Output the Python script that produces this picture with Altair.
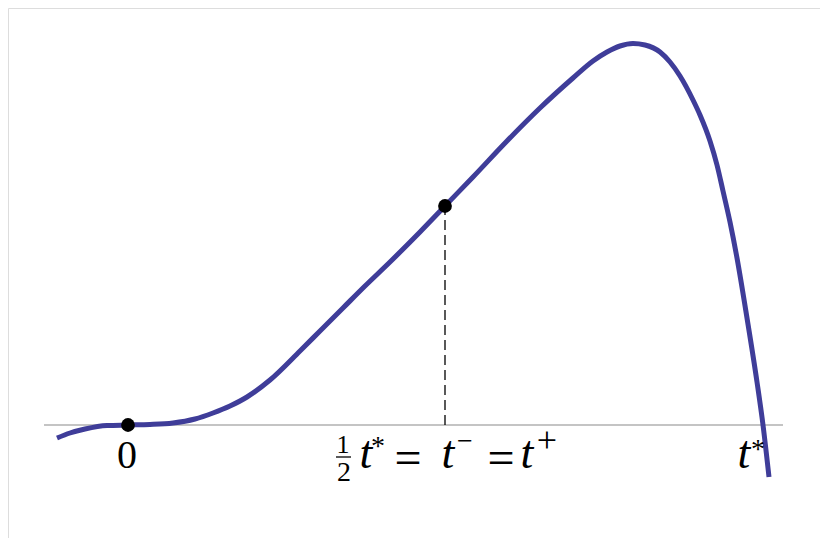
import altair as alt
import pandas as pd

t_vals = [-71, -58, -43, -21, 0, 22, 45, 67, 85, 102, 119, 142, 172, 192, 215, 237,
          262, 292, 317, 345, 379, 412, 445, 465, 479, 492, 505, 517, 532, 542, 552,
          565, 572, 582, 589, 595, 602, 609, 619, 629, 635, 641]
f_vals = [-13, -8, -4, -0.5, 0, 0.5, 2, 6, 12, 19, 28, 45, 74, 94, 117, 139,
          163, 193, 219, 248, 284, 317, 347, 364, 373, 379, 381.5, 380, 373, 363, 349,
          325, 310, 284, 260, 234, 203, 167, 107, 43, 0, -52]

# marked points: origin and half of t*
pt_t = [0, 317]
pt_f = [0, 219]

# axis extent
axis_t = [-84, 655]

curve = pd.DataFrame({"t": t_vals, "f": f_vals})
pts = pd.DataFrame({"t": pt_t, "f": pt_f})
axis_df = pd.DataFrame({"t": [axis_t[0]], "t2": [axis_t[1]], "f": [0]})
drop_df = pd.DataFrame({"t": [pt_t[1]], "f": [0], "f2": [pt_f[1]]})

xs = alt.Scale(domain=[-120, 692], nice=False, zero=False)
ys = alt.Scale(domain=[-113, 417], nice=False, zero=False)
X = lambda f: alt.X(f, scale=xs, axis=None)
Y = lambda f: alt.Y(f, scale=ys, axis=None)

axis_line = alt.Chart(axis_df).mark_rule(color="#8a8a8a", strokeWidth=1.2).encode(
    x=X("t:Q"), x2="t2:Q", y=Y("f:Q"))

drop = alt.Chart(drop_df).mark_rule(color="black", strokeWidth=1.3, strokeDash=[10, 5]).encode(
    x=X("t:Q"), y=Y("f:Q"), y2="f2:Q")

line = alt.Chart(curve).mark_line(color="#3f3d99", strokeWidth=5, interpolate="monotone").encode(
    x=X("t:Q"), y=Y("f:Q"))

dots = alt.Chart(pts).mark_point(filled=True, color="black", size=190, opacity=1).encode(
    x=X("t:Q"), y=Y("f:Q"))

# label pieces
lab_upright = pd.DataFrame({
    "txt": ["0", "1", "2", "*", "=", "\u2212", "=", "+", "*"],
    "t": [-1, 215, 216, 250, 280, 337, 373, 419, 630],
    "f": [-43, -28, -56, -30, -49, -25, -49, -27, -33],
    "size": [40, 26, 28, 28, 48, 28, 48, 36, 28],
})
lab_italic = pd.DataFrame({
    "txt": ["t", "t", "t", "t"],
    "t": [238, 320, 399, 616],
    "f": [-43, -43, -43, -43],
    "size": [46, 46, 46, 46],
})
frac_bar = pd.DataFrame({"t": [208], "t2": [223], "f": [-32]})

up = alt.Chart(lab_upright).mark_text(font="Liberation Serif", baseline="alphabetic",
                                      align="center", color="black").encode(
    x=X("t:Q"), y=Y("f:Q"), text="txt:N", size=alt.Size("size:Q", scale=None, legend=None))
it = alt.Chart(lab_italic).mark_text(font="Liberation Serif", fontStyle="italic",
                                     baseline="alphabetic", align="center", color="black").encode(
    x=X("t:Q"), y=Y("f:Q"), text="txt:N", size=alt.Size("size:Q", scale=None, legend=None))
bar = alt.Chart(frac_bar).mark_rule(color="black", strokeWidth=1.3).encode(
    x=X("t:Q"), x2="t2:Q", y=Y("f:Q"))

chart = alt.layer(axis_line, drop, line, dots, up, it, bar).properties(
    width=812, height=530, padding=0
).configure_view(stroke=None).configure(background="white")

chart.save("out.html", embed_options={"renderer": "svg", "actions": False})
